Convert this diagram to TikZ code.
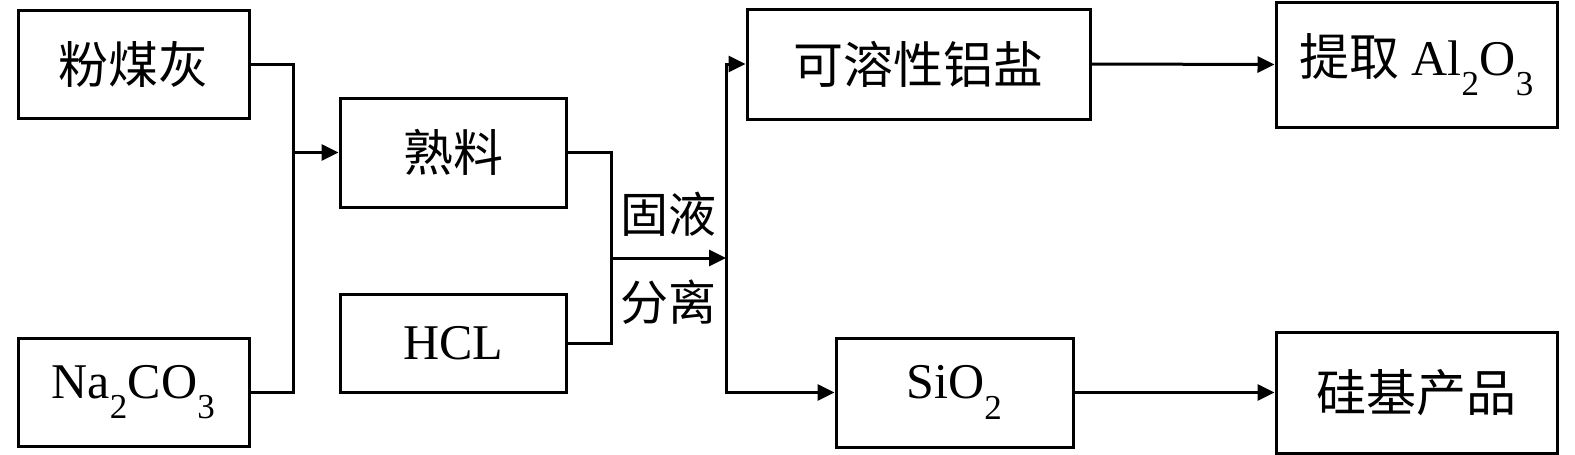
\documentclass[tikz,border=0pt]{standalone}
\usepackage{fontspec}
\setmainfont{Liberation Serif}
\newfontfamily\cjk{Noto Sans CJK SC}
\usetikzlibrary{positioning, arrows.meta}
\newcommand{\chemsub}[1]{\raisebox{-0.12em}{\textsubscript{#1}}}
\tikzset{
x=1pt, y=-1pt, % one unit is one pixel of the reference
>={Triangle[length=17pt,width=16pt]}, % filled heads
every node/.style={font=\fontsize{50}{60}\selectfont, inner sep=0pt},
stage/.style={draw, minimum width=#1}, % the boxes
label text/.style={font=\cjk\fontsize{48}{58}\selectfont},
}

\begin{document}
\begin{tikzpicture}[line width=3pt]
                \useasboundingbox (0,0) rectangle (1575,455);
                \node[stage=231, minimum height=108] (fmh) at (133.5,64) {\cjk 粉煤灰};
                \node[stage=231, minimum height=108] (na) at (133.5,392) {Na\chemsub{2}CO\chemsub{3}};
                \node[stage=226, minimum height=109] (sl) at (453,152.5) {\cjk 熟料};
                \node[stage=226, minimum height=98] (hcl) at (453,343) {HCL};
                \node[stage=343, minimum height=110] (kr) at (918.5,64) {\cjk 可溶性铝盐};
                \node[stage=237, minimum height=109] (sio) at (954.5,392.5) {SiO\chemsub{2}};
                \node[stage=281, minimum height=125] (tq) at (1416.5,64.5) {{\cjk 提取} Al\chemsub{2}O\chemsub{3}};
                \node[stage=281, minimum height=121] (gj) at (1416.5,392.5) {\cjk 硅基产品};

                \coordinate (j1) at (293,152.5);
                \coordinate (j2) at (611,258);
                \coordinate (j3) at (726,258);

                \draw (fmh.east) -| (j1) |- (na.east);
                \draw[->] (j1) -- (sl.west);
                \draw (sl.east) -| (j2) |- (hcl.east);
                \draw[->] (j2) -- node[label text, above=20pt] {固液} node[label text, below=20pt] {分离} (j3);
                \draw[->] (j3) |- (kr.west);
                \draw[->] (j3) |- (sio.west);
                \draw[->] (kr.east) -- (tq.west);
                \draw[->] (sio.east) -- (gj.west);
                \end{tikzpicture}
\end{document}
